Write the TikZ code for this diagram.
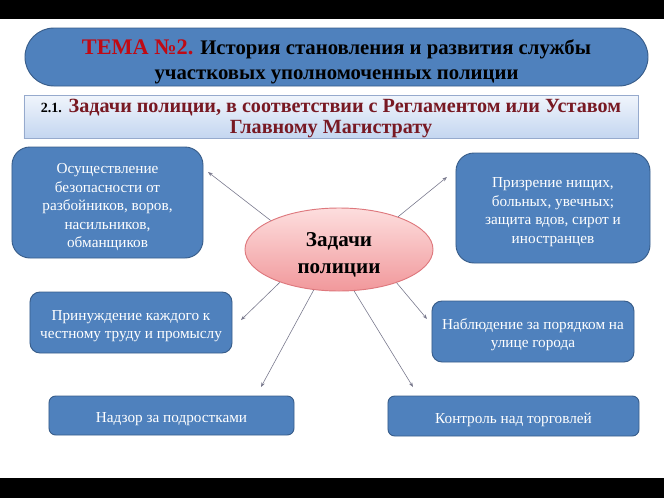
\documentclass[tikz,border=0pt]{standalone}
\usepackage{fontspec}
\setmainfont{Liberation Serif}
\usetikzlibrary{arrows.meta,shapes.geometric}
\definecolor{boxblue}{RGB}{79,129,189}
\definecolor{boxedge}{RGB}{56,93,138}
\definecolor{temared}{RGB}{192,10,20}
\definecolor{subred}{RGB}{120,25,35}
\definecolor{arrgray}{RGB}{120,120,140}
\definecolor{pinktop}{RGB}{253,222,222}
\definecolor{pinkbot}{RGB}{241,152,155}
\definecolor{pinkedge}{RGB}{222,120,125}
\definecolor{subtop}{RGB}{240,245,252}
\definecolor{subbot}{RGB}{196,214,240}
\definecolor{subedge}{RGB}{150,170,205}
\newcommand{\dropped}[2][3pt]{\raisebox{-#1}[\height][\depth]{\begin{tabular}{@{}c@{}}#2\end{tabular}}}

\begin{document}
\begin{tikzpicture}[x=0.03cm,y=-0.03cm,
		task/.style={rectangle,rounded corners=0.3cm,fill=boxblue,draw=boxedge,line width=0.8pt,text=white,inner sep=0pt,font=\fontsize{13}{15.8}\selectfont},
		arr/.style={draw=arrgray,line width=0.5pt,-{Stealth[length=4pt,width=3pt]}}]
				\useasboundingbox (0,0) rectangle (664,498);
				\fill[black] (0,0) rectangle (664,19);
				\fill[black] (0,478) rectangle (664,498);
				
				\node (tema) at (336.5,57) [rectangle,rounded corners=0.87cm,fill=boxblue,draw=boxedge,line width=0.8pt,minimum width=18.69cm,minimum height=1.74cm,inner sep=0pt,font=\bfseries\fontsize{17.7}{21.3}\selectfont] {\dropped[4.3pt]{\textcolor{temared}{\fontsize{19}{21.3}\selectfont ТЕМА №2.} История становления и развития службы\\участковых уполномоченных полиции}};
				\node (reg) at (331,116.5) [rectangle,top color=subtop,bottom color=subbot,draw=subedge,line width=0.8pt,minimum width=18.42cm,minimum height=1.29cm,inner sep=0pt,text=subred,font=\bfseries\fontsize{17.2}{18}\selectfont] {\dropped[1.7pt]{{\color{black}\fontsize{12}{18}\selectfont 2.1.} Задачи полиции, в соответствии с Регламентом или Уставом\\Главному Магистрату}};
				
				\node (zad) at (339,249.5) [ellipse,top color=pinktop,bottom color=pinkbot,draw=pinkedge,line width=0.8pt,minimum width=5.64cm,minimum height=2.49cm,inner sep=0pt,font=\bfseries\fontsize{18}{23}\selectfont] {\dropped[4.7pt]{Задачи\\полиции}};
				
				\node (t1) at (107.5,202.5) [task,rounded corners=0.54cm,minimum width=5.73cm,minimum height=3.33cm] {\dropped[3.8pt]{Осуществление\\безопасности от\\разбойников, воров,\\насильников,\\обманщиков}};
				\node (t2) at (553,208) [task,rounded corners=0.54cm,minimum width=5.82cm,minimum height=3.30cm] {\dropped[3.4pt]{Призрение нищих,\\больных, увечных;\\защита вдов, сирот и\\иностранцев}};
				\node (t3) at (131,322.5) [task,minimum width=6.06cm,minimum height=1.83cm] {\dropped{Принуждение каждого к\\честному труду и промыслу}};
				\node (t4) at (533,331.5) [task,minimum width=6.06cm,minimum height=1.83cm] {\dropped{Наблюдение за порядком на\\улице города}};
				\node (t5) at (171.5,415.5) [task,rounded corners=0.2cm,minimum width=7.35cm,minimum height=1.17cm] {\dropped{Надзор за подростками}};
				\node (t6) at (513.5,416) [task,rounded corners=0.2cm,minimum width=7.53cm,minimum height=1.2cm] {\dropped{Контроль над торговлей}};
				
				\coordinate (p1) at (208,172);
				\coordinate (p2) at (447,177);
				\coordinate (p3) at (241,320);
				\coordinate (p4) at (427,319);
				\coordinate (p5) at (261,387);
				\coordinate (p6) at (413,387);
				
				\draw[arr] (zad.157) -- (p1);
				\draw[arr] (zad.29) -- (p2);
				\draw[arr] (zad.209) -- (p3);
				\draw[arr] (zad.330) -- (p4);
				\draw[arr] (zad.238) -- (p5);
				\draw[arr] (zad.290) -- (p6);
			\end{tikzpicture}
\end{document}
